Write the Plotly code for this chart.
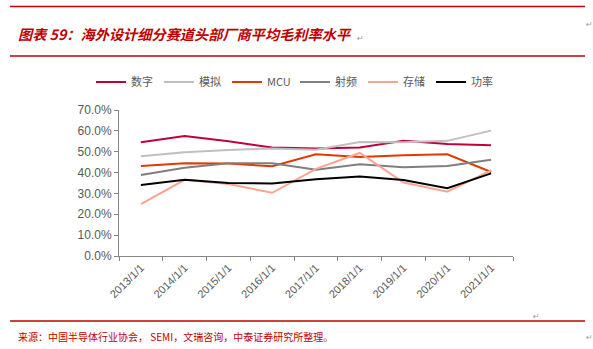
import plotly.graph_objects as go

years = ["2013/1/1", "2014/1/1", "2015/1/1", "2016/1/1", "2017/1/1",
         "2018/1/1", "2019/1/1", "2020/1/1", "2021/1/1"]

digital = [0.545, 0.575, 0.550, 0.520, 0.515, 0.520, 0.552, 0.537, 0.531]
analog = [0.478, 0.498, 0.508, 0.516, 0.510, 0.547, 0.545, 0.552, 0.601]
mcu = [0.432, 0.445, 0.443, 0.430, 0.488, 0.475, 0.483, 0.488, 0.403]
rf = [0.388, 0.423, 0.445, 0.445, 0.413, 0.440, 0.426, 0.432, 0.461]
memory = [0.249, 0.365, 0.345, 0.303, 0.418, 0.494, 0.352, 0.308, 0.411]
power = [0.340, 0.365, 0.350, 0.348, 0.368, 0.381, 0.364, 0.325, 0.396]

series_names = ["数字", "模拟", "MCU", "射频", "存储", "功率"]
series_values = [digital, analog, mcu, rf, memory, power]
series_colors = ["#C0003A", "#BFBFBF", "#E03A00", "#7F7F7F", "#FBA491", "#000000"]

fig = go.Figure()
for name, vals, col in zip(series_names, series_values, series_colors):
    fig.add_trace(go.Scatter(x=years, y=vals, mode="lines", name=name,
                             line=dict(color=col, width=2)))

W, H = 593, 349
L, R, T, B = 119, 80, 110, 93
pw, ph = W - L - R, H - T - B


def px_x(x):
    return (x - L) / pw


def px_y(y):
    return (H - B - y) / ph


red = "#C00000"
fig.update_layout(
    width=W, height=H,
    margin=dict(l=L, r=R, t=T, b=B),
    paper_bgcolor="white", plot_bgcolor="white",
    showlegend=True,
    legend=dict(orientation="h", x=px_x(91), y=px_y(82), xanchor="left", yanchor="middle",
                font=dict(family="Noto Sans CJK SC", size=11, color="#595959"),
                entrywidth=23, entrywidthmode="pixels", itemwidth=30,
                bgcolor="rgba(0,0,0,0)"),
    xaxis=dict(type="category", range=[-0.5, 8.5], showgrid=False,
               showline=True, linecolor="#868686", linewidth=1,
               ticks="outside", ticklen=4, tickcolor="#868686", tickson="boundaries",
               tickangle=-45,
               tickfont=dict(family="Liberation Sans, Arial", size=11, color="#595959")),
    yaxis=dict(range=[0, 0.7], dtick=0.1, tickformat=".1%", showgrid=False,
               showline=True, linecolor="#868686", linewidth=1,
               ticks="outside", ticklen=4, tickcolor="#868686",
               tickfont=dict(family="Liberation Sans, Arial", size=12, color="#595959")),
)

# Header / footer rules
for yy in (6.5, 56, 321):
    fig.add_shape(type="line", xref="paper", yref="paper",
                  x0=px_x(10), x1=px_x(585), y0=px_y(yy), y1=px_y(yy),
                  line=dict(color=red, width=1.5))

fig.add_annotation(xref="paper", yref="paper", x=px_x(16), y=px_y(34),
                   xanchor="left", yanchor="middle", showarrow=False,
                   text="<b><i>图表 59：海外设计细分赛道头部厂商平均毛利率水平</i></b>",
                   font=dict(family="Noto Sans CJK SC", size=14.2, color=red))
fig.add_annotation(xref="paper", yref="paper", x=px_x(16), y=px_y(336),
                   xanchor="left", yanchor="middle", showarrow=False,
                   text="来源：中国半导体行业协会， SEMI，文瑞咨询，中泰证券研究所整理。",
                   font=dict(family="Noto Sans CJK SC", size=10, color=red))

for (xx, yy) in [(360, 38), (589, 24), (589, 337), (536, 316)]:
    fig.add_annotation(xref="paper", yref="paper", x=px_x(xx), y=px_y(yy),
                       xanchor="center", yanchor="middle", showarrow=False,
                       text="↵", font=dict(family="DejaVu Sans", size=8, color="#999999"))

fig.write_html("out.html")
